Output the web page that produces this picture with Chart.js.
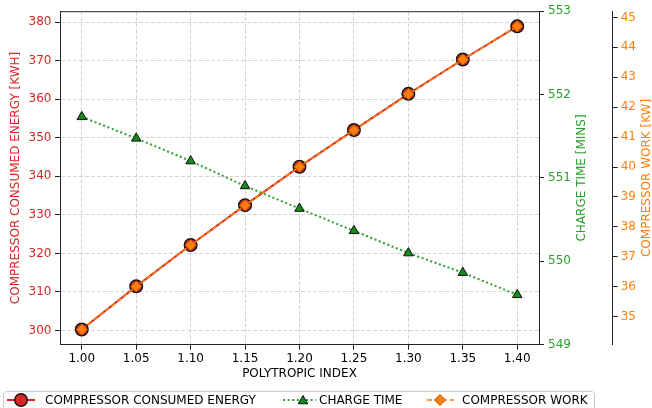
<!DOCTYPE html>
<html>
<head>
<meta charset="utf-8">
<script src="https://cdn.jsdelivr.net/npm/chart.js@4.4.1/dist/chart.umd.min.js"></script>
<style>
  html, body { margin: 0; padding: 0; background: #fff; }
  #wrap { width: 652px; height: 408px; position: relative; overflow: hidden; }
</style>
</head>
<body>
<div id="wrap"><canvas id="c" width="652" height="408"></canvas></div>
<script>
// ---- data ----
const polytropicIndex = [1.00, 1.05, 1.10, 1.15, 1.20, 1.25, 1.30, 1.35, 1.40];
const compressorEnergy = [300.26, 311.46, 322.17, 332.52, 342.5, 352.0, 361.4, 370.3, 378.9]; // kWh
const chargeTime = [551.733, 551.475, 551.203, 550.904, 550.633, 550.366, 550.099, 549.864, 549.598]; // mins
const compressorWork = [34.57, 36.01, 37.39, 38.72, 40.01, 41.23, 42.44, 43.59, 44.70]; // kW

const xTicks = [1.00, 1.05, 1.10, 1.15, 1.20, 1.25, 1.30, 1.35, 1.40];
const energyTicks = [300, 310, 320, 330, 340, 350, 360, 370, 380];
const chargeTicks = [549, 550, 551, 552, 553];
const workTicks = [35, 36, 37, 38, 39, 40, 41, 42, 43, 44, 45];

const labels = {
  x: 'POLYTROPIC INDEX',
  energy: 'COMPRESSOR CONSUMED ENERGY [KWH]',
  charge: 'CHARGE TIME [MINS]',
  work: 'COMPRESSOR WORK [KW]'
};

const RED = '#d62728', GREEN = '#2ca02c', ORANGE = '#ff7f0e';
const FONT = "'DejaVu Sans', sans-serif";

function padRange(arr, frac) {
  const mn = Math.min(...arr), mx = Math.max(...arr);
  const m = (mx - mn) * frac;
  return [mn - m, mx + m];
}
const xr = padRange(polytropicIndex, 0.05);
const er = padRange(compressorEnergy, 0.05);
const wr = padRange(compressorWork, 0.05);

function fixedTicks(list) {
  return function (scale) { scale.ticks = list.map(v => ({ value: v })); };
}

function drawTriangle(ctx, x, y, r) {
  ctx.beginPath();
  ctx.moveTo(x, y - r);
  ctx.lineTo(x + r * 0.866, y + r * 0.5);
  ctx.lineTo(x - r * 0.866, y + r * 0.5);
  ctx.closePath();
}

const framePlugin = {
  id: 'frame',
  afterDraw(chart) {
    const ctx = chart.ctx;
    const a = chart.chartArea;
    ctx.save();
    // top spine
    ctx.strokeStyle = '#222';
    ctx.lineWidth = 1;
    ctx.beginPath();
    ctx.moveTo(a.left, a.top + 0.5);
    ctx.lineTo(a.right, a.top + 0.5);
    ctx.stroke();

    // axis titles
    const mid = (a.top + a.bottom) / 2;
    ctx.font = '12px ' + FONT;
    ctx.textAlign = 'center';
    ctx.textBaseline = 'middle';
    const vt = (txt, x, col) => {
      ctx.save();
      ctx.translate(x, mid);
      ctx.rotate(-Math.PI / 2);
      ctx.fillStyle = col;
      ctx.fillText(txt, 0, 0);
      ctx.restore();
    };
    vt(labels.energy, 16, RED);
    vt(labels.charge, 581.7, GREEN);
    vt(labels.work, 646.5, ORANGE);
    ctx.fillStyle = '#000';
    ctx.fillText(labels.x, (a.left + a.right) / 2, 374);

    // legend
    const ly = 400;
    ctx.beginPath();
    if (ctx.roundRect) ctx.roundRect(3.5, 391.5, 591, 30, 3); else ctx.rect(3.5, 391.5, 591, 30);
    ctx.fillStyle = '#fff';
    ctx.fill();
    ctx.strokeStyle = '#cccccc';
    ctx.lineWidth = 1;
    ctx.stroke();

    // item 1
    ctx.strokeStyle = RED; ctx.lineWidth = 2; ctx.setLineDash([]);
    ctx.beginPath(); ctx.moveTo(7, ly); ctx.lineTo(35, ly); ctx.stroke();
    ctx.beginPath(); ctx.arc(21, ly, 6.3, 0, Math.PI * 2);
    ctx.fillStyle = RED; ctx.fill(); ctx.strokeStyle = '#111'; ctx.lineWidth = 1.4; ctx.stroke();
    // item 2
    ctx.strokeStyle = GREEN; ctx.lineWidth = 2; ctx.setLineDash([2, 2.6]);
    ctx.beginPath(); ctx.moveTo(283, ly); ctx.lineTo(316, ly); ctx.stroke();
    ctx.setLineDash([]);
    drawTriangle(ctx, 303, ly + 1, 5.5);
    ctx.fillStyle = '#168a16'; ctx.fill(); ctx.strokeStyle = '#111'; ctx.lineWidth = 1; ctx.stroke();
    // item 3
    ctx.strokeStyle = ORANGE; ctx.lineWidth = 1.6; ctx.setLineDash([5, 2.5]);
    ctx.beginPath(); ctx.moveTo(427, ly); ctx.lineTo(454, ly); ctx.stroke();
    ctx.setLineDash([]);
    ctx.beginPath();
    ctx.moveTo(440, ly - 5.5); ctx.lineTo(445.5, ly); ctx.lineTo(440, ly + 5.5); ctx.lineTo(434.5, ly); ctx.closePath();
    ctx.fillStyle = ORANGE; ctx.fill(); ctx.strokeStyle = '#b35400'; ctx.lineWidth = 1; ctx.stroke();

    ctx.fillStyle = '#000';
    ctx.textAlign = 'left';
    ctx.font = '12px ' + FONT;
    ctx.fillText('COMPRESSOR CONSUMED ENERGY', 45, ly + 0.5);
    ctx.fillText('CHARGE TIME', 319, ly + 0.5);
    ctx.fillText('COMPRESSOR WORK', 462, ly + 0.5);
    ctx.restore();
  }
};

const tickFont = { family: FONT, size: 12 };
const solidTick = { tickColor: '#222', tickWidth: 1, tickLength: 5, tickBorderDash: [] };

new Chart(document.getElementById('c'), {
  type: 'line',
  data: {
    datasets: [
      {
        label: 'COMPRESSOR CONSUMED ENERGY',
        data: polytropicIndex.map((x, i) => ({ x, y: compressorEnergy[i] })),
        yAxisID: 'yE',
        borderColor: RED,
        borderWidth: 2,
        pointStyle: 'circle',
        pointRadius: 6.3,
        pointBackgroundColor: RED,
        pointBorderColor: '#111',
        pointBorderWidth: 1.4,
        order: 3
      },
      {
        label: 'CHARGE TIME',
        data: polytropicIndex.map((x, i) => ({ x, y: chargeTime[i] })),
        yAxisID: 'yT',
        borderColor: GREEN,
        borderWidth: 2,
        borderDash: [2, 2.6],
        pointStyle: 'triangle',
        pointRadius: 5.5,
        pointBackgroundColor: '#168a16',
        pointBorderColor: '#111',
        pointBorderWidth: 1,
        order: 2
      },
      {
        label: 'COMPRESSOR WORK',
        data: polytropicIndex.map((x, i) => ({ x, y: compressorWork[i] })),
        yAxisID: 'yW',
        borderColor: ORANGE,
        borderWidth: 1.6,
        borderDash: [5, 2.5],
        pointStyle: 'rectRot',
        pointRadius: 5.5,
        pointBackgroundColor: ORANGE,
        pointBorderColor: '#b35400',
        pointBorderWidth: 1,
        order: 1
      }
    ]
  },
  options: {
    responsive: false,
    animation: false,
    devicePixelRatio: 1,
    layout: { padding: { top: 10.3, left: 0, right: 0, bottom: 0 } },
    plugins: { legend: { display: false }, tooltip: { enabled: false } },
    elements: { line: { tension: 0, fill: false } },
    scales: {
      x: {
        type: 'linear',
        position: 'bottom',
        min: xr[0], max: xr[1],
        afterBuildTicks: fixedTicks(xTicks),
        afterFit(s) { s.height = 408 - 344.7; },
        ticks: { font: tickFont, color: '#000', padding: 2, maxRotation: 0, callback: v => v.toFixed(2) },
        grid: { color: '#cfcfcf', lineWidth: 0.9, ...solidTick },
        border: { display: true, color: '#222', width: 1, dash: [4, 2] }
      },
      yE: {
        type: 'linear',
        position: 'left',
        min: er[0], max: er[1],
        afterBuildTicks: fixedTicks(energyTicks),
        afterFit(s) { s.width = 60; },
        ticks: { font: tickFont, color: RED, padding: 3.5 },
        grid: { color: '#cfcfcf', lineWidth: 0.9, ...solidTick },
        border: { display: true, color: '#222', width: 1, dash: [4, 2] }
      },
      yT: {
        type: 'linear',
        position: 'right',
        weight: 0,
        min: 549, max: 553,
        afterBuildTicks: fixedTicks(chargeTicks),
        afterFit(s) { s.width = 612.7 - 539; },
        ticks: { font: tickFont, color: GREEN, padding: 4 },
        grid: { drawOnChartArea: false, ...solidTick },
        border: { display: true, color: '#222', width: 1 }
      },
      yW: {
        type: 'linear',
        position: 'right',
        weight: 1,
        min: wr[0], max: wr[1],
        afterBuildTicks: fixedTicks(workTicks),
        afterFit(s) { s.width = 652 - 612.7; },
        ticks: { font: tickFont, color: ORANGE, padding: 3 },
        grid: { drawOnChartArea: false, ...solidTick },
        border: { display: true, color: '#222', width: 1 }
      }
    }
  },
  plugins: [framePlugin]
});
</script>
</body>
</html>
